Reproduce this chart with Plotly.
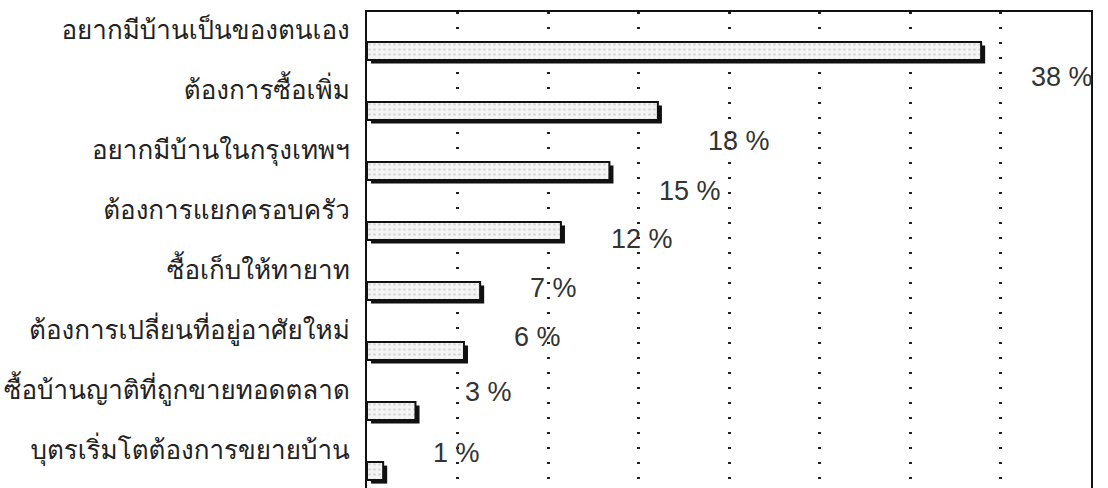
import plotly.graph_objects as go

# Reasons for buying a house (share of respondents, %)
categories = [
    "อยากมีบ้านเป็นของตนเอง",
    "ต้องการซื้อเพิ่ม",
    "อยากมีบ้านในกรุงเทพฯ",
    "ต้องการแยกครอบครัว",
    "ซื้อเก็บให้ทายาท",
    "ต้องการเปลี่ยนที่อยู่อาศัยใหม่",
    "ซื้อบ้านญาติที่ถูกขายทอดตลาด",
    "บุตรเริ่มโตต้องการขยายบ้าน",
]
values = [38, 18, 15, 12, 7, 6, 3, 1]
value_labels = [f"{v} %" for v in values]

rows = list(range(len(categories)))

# styling
BAR_W = 0.3
SHADOW_DX = 0.25   # shadow offset along x (data units)
SHADOW_DY = 0.06   # shadow offset along y (row units)
TICK_LIFT = 0.35   # category labels sit a little above their bars
label_yshift = [-26, -30, -20, -8, 3, 14, 19, 18]  # px nudges for value labels

fig = go.Figure()

# drop shadow behind each bar
fig.add_trace(go.Bar(
    x=values,
    y=[r + SHADOW_DY for r in rows],
    base=SHADOW_DX,
    orientation="h",
    width=BAR_W,
    marker=dict(color="#111111", line=dict(width=0)),
    hoverinfo="skip",
))

# main bars
fig.add_trace(go.Bar(
    x=values,
    y=rows,
    orientation="h",
    width=BAR_W,
    marker=dict(
        color="#f0f0f0",
        line=dict(color="#111111", width=2),
        pattern=dict(shape=".", fgcolor="#b8b8b8", bgcolor="#f4f4f4",
                     size=5, solidity=0.22),
    ),
))

for r, v, t, dy in zip(rows, values, value_labels, label_yshift):
    fig.add_annotation(
        x=v, y=r, text=t, showarrow=False,
        xanchor="left", yanchor="middle",
        xshift=48, yshift=dy,
        font=dict(family="Liberation Sans, Arial, sans-serif", size=27, color="#333333"),
    )

fig.update_layout(
    width=1108,
    height=530,
    margin=dict(l=367, r=17, t=12, b=20, autoexpand=False),
    barmode="overlay",
    showlegend=False,
    plot_bgcolor="white",
    paper_bgcolor="white",
)

fig.update_xaxes(
    range=[0, 44.8],
    tick0=0,
    dtick=5.6,
    showticklabels=False,
    ticks="",
    showgrid=True,
    gridcolor="#222222",
    gridwidth=2.5,
    griddash="2px,13px",
    zeroline=False,
    showline=True,
    mirror=True,
    linecolor="#111111",
    linewidth=2,
    automargin=False,
)

fig.update_yaxes(
    range=[7.65, -0.65],
    tickvals=[r - TICK_LIFT for r in rows],
    ticktext=categories,
    ticks="",
    ticklabelstandoff=10,
    showgrid=False,
    zeroline=False,
    showline=True,
    mirror=True,
    linecolor="#111111",
    linewidth=2,
    automargin=False,
    tickfont=dict(family="Loma, Garuda, Tahoma, 'Noto Sans Thai', sans-serif",
                  size=26, color="#222222"),
)

fig.write_html("out.html")
